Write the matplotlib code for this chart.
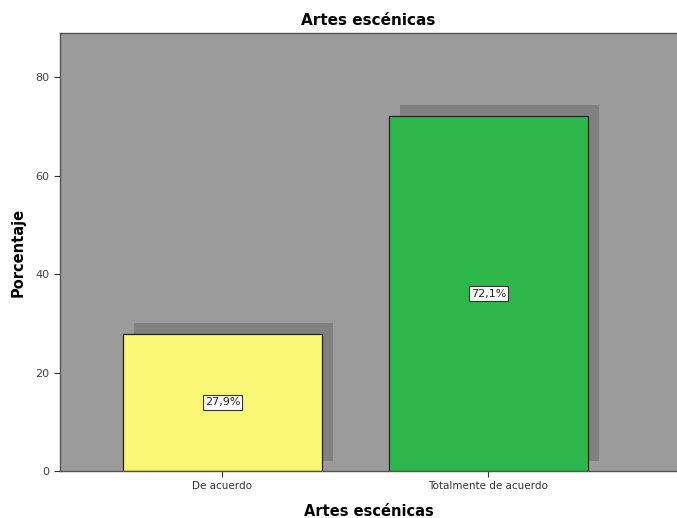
import matplotlib
matplotlib.use("Agg")
import matplotlib.pyplot as plt
import numpy as np

categories = ["De acuerdo", "Totalmente de acuerdo"]
values = [27.9, 72.1]
labels = ["27,9%", "72,1%"]
colors = ["#faf775", "#2eb84b"]
yticks = [0, 20, 40, 60, 80]

fig = plt.figure(figsize=(6.77, 5.18), dpi=100)
ax = fig.add_axes([60/677, 47/518, 617/677, 438/518])
ax.set_facecolor("#9b9b9b")

x = np.arange(len(categories))
width = 0.748
dx = 11/266
# shadows
ax.bar(x + dx, [v + 0.2 for v in values], bottom=2.0, width=width, color="#808080", edgecolor="none", zorder=1)
bars = ax.bar(x, values, width=width, color=colors, edgecolor="#222222", linewidth=0.9, zorder=2)
for xi, v, lab in zip(x, values, labels):
    ax.text(xi, v / 2, lab, ha="center", va="center", fontsize=8, color="#222222", zorder=3,
            bbox=dict(boxstyle="square,pad=0.2", facecolor="white", edgecolor="#333333", linewidth=0.8))

ax.set_xlim(-0.611, 1.709)
ax.set_ylim(0, 89)
ax.set_yticks(yticks)
ax.set_xticks(x)
ax.set_xticklabels(categories, fontsize=7.5, color="#333333")
ax.tick_params(axis="y", labelsize=8, labelcolor="#444444", length=4, color="#333333")
ax.tick_params(axis="x", length=4, color="#333333")
for s in ["left", "bottom", "top"]:
    ax.spines[s].set_color("#555555")
    ax.spines[s].set_linewidth(1)
ax.spines["right"].set_visible(False)

ax.set_title("Artes escénicas", fontsize=11, fontweight="bold", pad=6)
ax.set_xlabel("Artes escénicas", fontsize=10.5, fontweight="bold", labelpad=9)
ax.set_ylabel("Porcentaje", fontsize=10.5, fontweight="bold", labelpad=7)

fig.savefig("out.png", dpi=100)
